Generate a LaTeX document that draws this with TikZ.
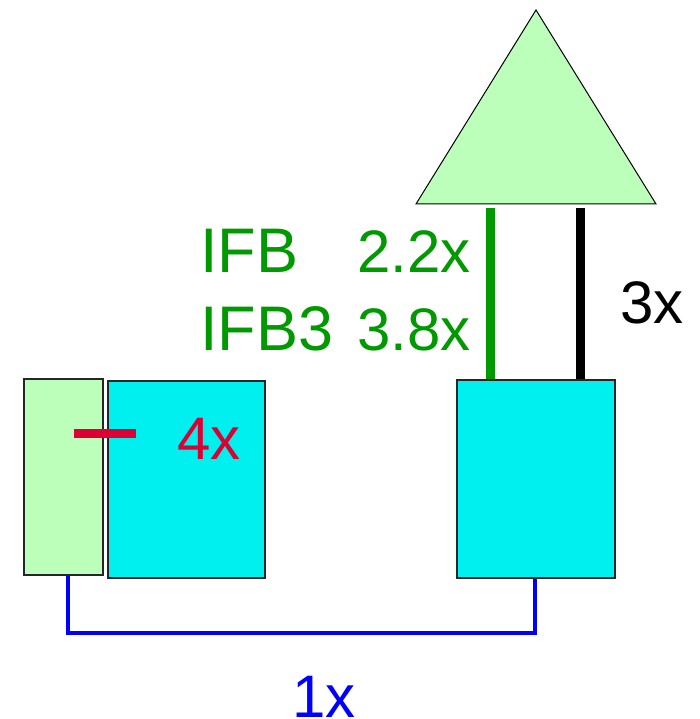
\documentclass[tikz,border=0pt]{standalone}
\usepackage{fontspec}
\setmainfont{Liberation Sans}
\definecolor{tri}{HTML}{BBFFBB}
\definecolor{cy}{HTML}{00F0F0}
\definecolor{gtxt}{HTML}{009900}
\definecolor{rd}{HTML}{DD0033}
\definecolor{bl}{HTML}{0000FF}
\begin{document}
\begin{tikzpicture}[x=1pt,y=-1pt,
  box/.style={draw=black!85,line width=1.5pt,inner sep=0pt,anchor=north west},
  lbl/.style={anchor=base west,inner sep=0pt,font=\fontsize{60}{60}\selectfont},
  biglbl/.style={anchor=base west,inner sep=0pt,font=\fontsize{63}{63}\selectfont}]
\useasboundingbox (0,0) rectangle (700,719);
% triangle
\draw[fill=tri,draw=black,line width=1pt] (536,10) coordinate (apex) -- (656,204) coordinate (tr) -- (416,204) coordinate (tl) -- cycle;
% boxes
\node[box,fill=cy,minimum width=158pt,minimum height=198pt] (rbox) at (456,379) {};
\node[box,fill=tri,minimum width=79pt,minimum height=196pt] (gbox) at (23,378) {};
\node[box,fill=cy,minimum width=157pt,minimum height=197pt] (lbox) at (107,380) {};
% vertical connectors
\coordinate (g1) at (490,208);
\coordinate (k1) at (580,208);
\draw[gtxt,line width=9pt] (g1) -- (g1 |- rbox.north);
\draw[black,line width=9pt] (k1) -- (k1 |- rbox.north);
% red line
\coordinate (r1) at (74,433);
\coordinate (r2) at (136,433);
\draw[rd,line width=9pt] (r1) -- (r2);
% blue connector
\coordinate (b1) at (68,633);
\draw[bl,line width=4.5pt] (gbox.south west -| b1) -- (b1) -- (b1 -| 535,0) -- (rbox.south -| 535,0);
% labels
\node[biglbl,gtxt] (ifb) at (200,272) {IFB};
\node[lbl,gtxt] (v1) at (357,272) {2.2x};
\node[biglbl,gtxt] (ifb3) at (200,350) {IFB3};
\node[lbl,gtxt] (v2) at (357,350) {3.8x};
\node[lbl,black] (v3) at (620,323) {3x};
\node[lbl,rd] (v4) at (177,459) {4x};
\node[lbl,bl] (v5) at (292,717) {1x};
\end{tikzpicture}
\end{document}
